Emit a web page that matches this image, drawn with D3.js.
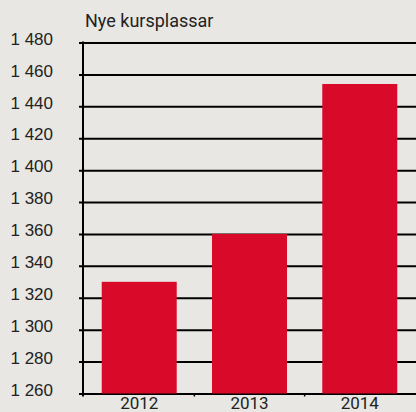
<!DOCTYPE html>
<html>
<head>
<meta charset="utf-8">
<script src="https://cdn.jsdelivr.net/npm/d3@7"></script>
<style>
  body { margin: 0; background: #e9e7e3; }
  svg { display: block; font-family: Roboto, "DejaVu Sans", sans-serif; }
</style>
</head>
<body>
<script>
// data
var years = ["2012", "2013", "2014"];
var places = [1330, 1360, 1454];
var yTicks = [1260, 1280, 1300, 1320, 1340, 1360, 1380, 1400, 1420, 1440, 1460, 1480];
var title = "Nye kursplassar";

var svgWidth = 416;
var svgHeight = 412;

var svg = d3.select("body")
            .append("svg")
            .attr("width", svgWidth)
            .attr("height", svgHeight);

svg.append("rect")
   .attr("width", svgWidth)
   .attr("height", svgHeight)
   .attr("fill", "#e9e7e3");

var axisX = 83;

var yScale = d3.scaleLinear()
               .domain([1260, 1480])
               .range([393.5, 42.5]);

var xScale = d3.scaleBand()
               .domain(years)
               .range([axisX, svgWidth])
               .paddingInner(0.32)
               .paddingOuter(0.17);

var fmt = function(d) {
  var s = String(d);
  return s.slice(0, 1) + " " + s.slice(1);
};

// grid lines + y labels
var leftAxis = d3.axisLeft(yScale)
                 .tickValues(yTicks)
                 .tickSize(-(svgWidth - axisX + 4))
                 .tickPadding(26)
                 .tickFormat(fmt);

var yg = svg.append("g")
            .attr("transform", `translate(${axisX - 4}, 0)`)
            .call(leftAxis);
yg.select(".domain").remove();
yg.selectAll("line").attr("stroke", "#000").attr("stroke-width", 2);
yg.selectAll("text")
  .attr("fill", "#222")
  .attr("font-size", 17)
  .attr("dy", "0.1em");

// bars
svg.selectAll("rect.bar")
   .data(places)
   .enter()
   .append("rect")
   .attr("class", "bar")
   .attr("x", (d, i) => xScale(years[i]))
   .attr("y", d => yScale(d))
   .attr("width", xScale.bandwidth())
   .attr("height", d => yScale(1260) - yScale(d))
   .attr("fill", "#d90a29");

// y axis line
svg.append("line")
   .attr("x1", axisX).attr("x2", axisX)
   .attr("y1", yScale(1480) - 1).attr("y2", yScale(1260) + 3)
   .attr("stroke", "#000")
   .attr("stroke-width", 2);

// small ticks between bands
var step = xScale.step();
years.slice(1).forEach(function(y) {
  var bx = xScale(y) - step * xScale.paddingInner() / 2;
  svg.append("line")
     .attr("x1", bx).attr("x2", bx)
     .attr("y1", yScale(1260)).attr("y2", yScale(1260) + 3)
     .attr("stroke", "#000")
     .attr("stroke-width", 1.5);
});

// x labels
svg.selectAll("text.year")
   .data(years)
   .enter()
   .append("text")
   .attr("class", "year")
   .attr("x", d => xScale(d) + xScale.bandwidth() / 2)
   .attr("y", 409)
   .attr("text-anchor", "middle")
   .attr("font-size", 17)
   .attr("fill", "#222")
   .text(d => d);

svg.append("text")
   .attr("x", 85)
   .attr("y", 27)
   .attr("font-size", 18)
   .attr("fill", "#222")
   .text(title);
</script>
</body>
</html>
